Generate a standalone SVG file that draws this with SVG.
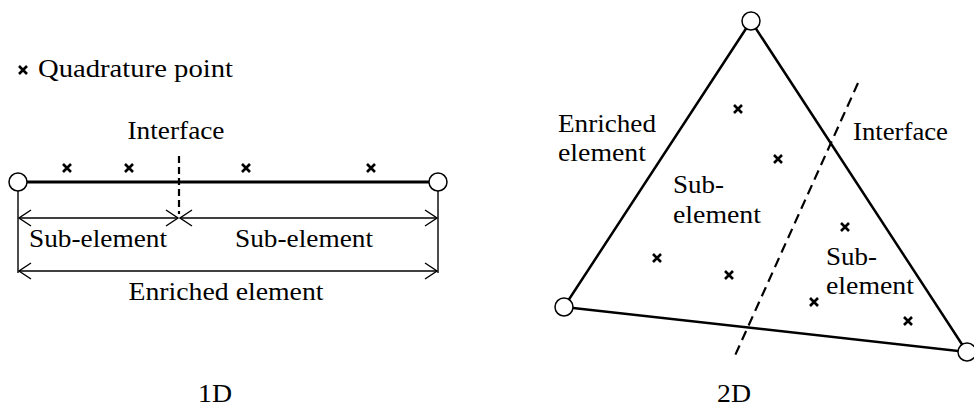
<svg xmlns="http://www.w3.org/2000/svg" xmlns:xlink="http://www.w3.org/1999/xlink" width="974" height="409" viewBox="0 0 974 409">
<style>
text{font-family:"Liberation Serif","Times New Roman",serif;font-size:25px;fill:#000}
.mid{text-anchor:middle}
.node{fill:#fff;stroke:#000;stroke-width:1.5}
.thick{stroke:#000;stroke-width:3;fill:none}
.thin{stroke:#000;stroke-width:1.4;fill:none}
.dash1{stroke:#000;stroke-width:2.2;stroke-dasharray:7 4;fill:none}
.dash2{stroke:#000;stroke-width:2.2;stroke-dasharray:10 6;fill:none}
.edge{stroke:#000;stroke-width:2.5;fill:none}
.x{stroke:#000;stroke-width:2.6;fill:none}
</style>
<defs>
<marker id="arr" markerUnits="userSpaceOnUse" viewBox="-14 -10 16 20" markerWidth="16" markerHeight="20" refX="0" refY="0" orient="auto-start-reverse">
<path d="M-12,-8 L0,0 L-12,8" fill="none" stroke="#000" stroke-width="1.4"/>
</marker>
<path id="cross" d="M-4,-4 L4,4 M-4,4 L4,-4" class="x"/>
</defs>

<g id="legend">
<use xlink:href="#cross" x="23" y="70"/>
<text x="38" y="77" textLength="195" lengthAdjust="spacingAndGlyphs">Quadrature point</text>
</g>

<!-- 1D -->
<g id="connectors-1d">
<line class="thick" x1="27" y1="182" x2="429" y2="182"/>
<line class="dash1" x1="179" y1="156" x2="179" y2="214"/>
<line class="thin" x1="18" y1="191" x2="18" y2="273"/>
<line class="thin" x1="438" y1="191" x2="438" y2="273"/>
<line class="thin" x1="19" y1="218" x2="178" y2="218" marker-start="url(#arr)" marker-end="url(#arr)"/>
<line class="thin" x1="180" y1="218" x2="437" y2="218" marker-start="url(#arr)" marker-end="url(#arr)"/>
<line class="thin" x1="19" y1="271" x2="437" y2="271" marker-start="url(#arr)" marker-end="url(#arr)"/>
</g>
<g id="qp-1d">
<use xlink:href="#cross" x="67" y="168"/>
<use xlink:href="#cross" x="129" y="168"/>
<use xlink:href="#cross" x="246" y="168"/>
<use xlink:href="#cross" x="371" y="168"/>
</g>
<g id="node-1d-left"><circle class="node" cx="18" cy="182" r="9"/></g>
<g id="node-1d-right"><circle class="node" cx="438" cy="182" r="9"/></g>
<g id="labels-1d">
<text class="mid" x="176" y="139" textLength="97" lengthAdjust="spacingAndGlyphs">Interface</text>
<text class="mid" x="98" y="247" textLength="138" lengthAdjust="spacingAndGlyphs">Sub-element</text>
<text class="mid" x="304" y="247" textLength="138" lengthAdjust="spacingAndGlyphs">Sub-element</text>
<text class="mid" x="226" y="300" textLength="195" lengthAdjust="spacingAndGlyphs">Enriched element</text>
<text class="mid" x="215" y="402" textLength="34" lengthAdjust="spacingAndGlyphs">1D</text>
</g>

<!-- 2D -->
<g id="connectors-2d">
<path class="edge" d="M751,21 L564,307 L967,352 Z"/>
<line class="dash2" x1="858" y1="83" x2="733" y2="360"/>
</g>
<g id="qp-2d">
<use xlink:href="#cross" x="738" y="109"/>
<use xlink:href="#cross" x="778" y="159"/>
<use xlink:href="#cross" x="657" y="258"/>
<use xlink:href="#cross" x="729" y="275"/>
<use xlink:href="#cross" x="845" y="227"/>
<use xlink:href="#cross" x="814" y="302"/>
<use xlink:href="#cross" x="908" y="321"/>
</g>
<g id="node-2d-top"><circle class="node" cx="751" cy="21" r="9"/></g>
<g id="node-2d-left"><circle class="node" cx="564" cy="307" r="9"/></g>
<g id="node-2d-right"><circle class="node" cx="967" cy="352" r="9"/></g>
<g id="labels-2d">
<text x="558" y="132" textLength="98" lengthAdjust="spacingAndGlyphs">Enriched</text>
<text x="558" y="161" textLength="88" lengthAdjust="spacingAndGlyphs">element</text>
<text x="853" y="140" textLength="95" lengthAdjust="spacingAndGlyphs">Interface</text>
<text x="673" y="193" textLength="51" lengthAdjust="spacingAndGlyphs">Sub-</text>
<text x="673" y="223" textLength="88" lengthAdjust="spacingAndGlyphs">element</text>
<text x="826" y="265" textLength="51" lengthAdjust="spacingAndGlyphs">Sub-</text>
<text x="826" y="294" textLength="88" lengthAdjust="spacingAndGlyphs">element</text>
<text class="mid" x="734" y="402" textLength="34" lengthAdjust="spacingAndGlyphs">2D</text>
</g>
</svg>
